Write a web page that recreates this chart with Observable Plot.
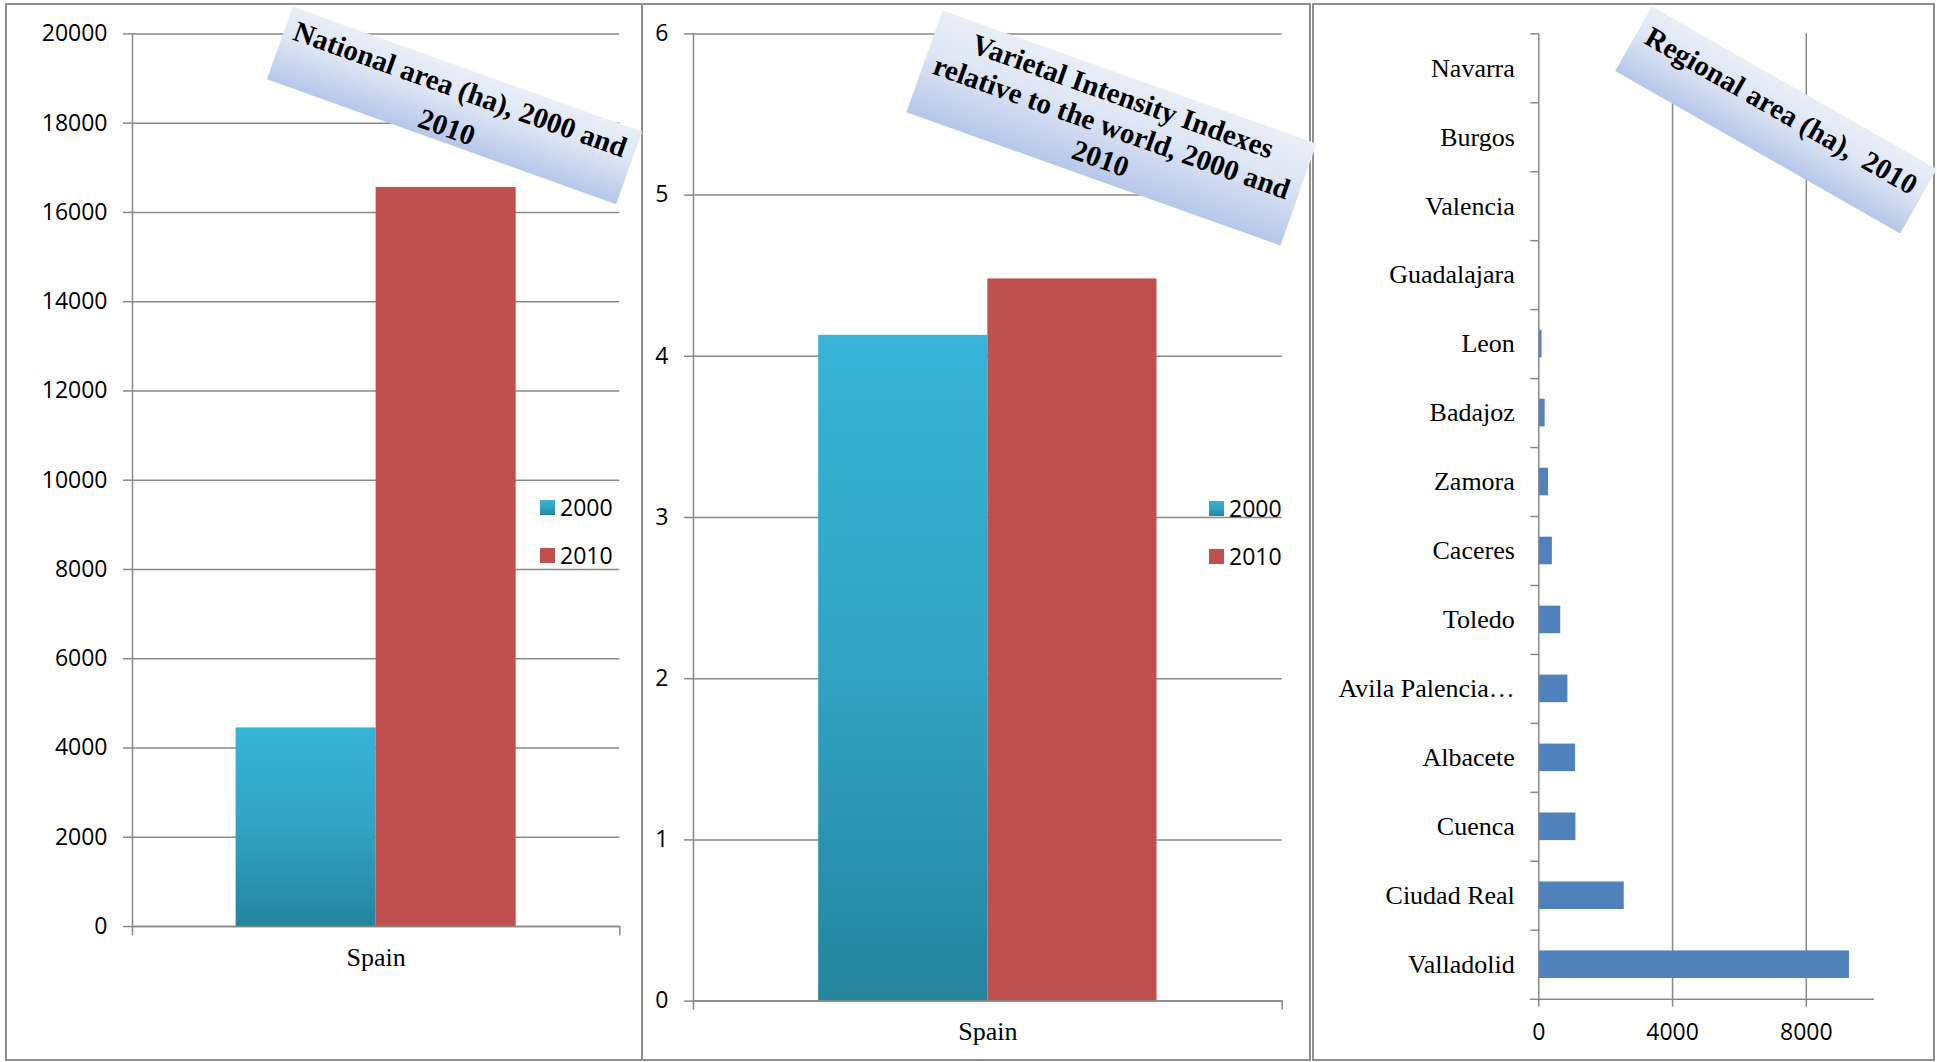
<!DOCTYPE html>
<html>
<head>
<meta charset="utf-8">
<script src="https://cdn.jsdelivr.net/npm/d3@7"></script>
<script src="https://cdn.jsdelivr.net/npm/@observablehq/plot@0.6"></script>
<style>
  html, body { margin: 0; padding: 0; background: #fff; }
  body { width: 1937px; height: 1062px; overflow: hidden; position: relative; font-family: 'Open Sans', sans-serif; }
  .panel { position: absolute; border: 2px solid #8f8f8f; box-sizing: border-box; }
  .chart { position: absolute; top: 0; }
  .title { position: absolute; box-sizing: border-box; background: linear-gradient(to bottom, #e9eef8 0%, #dfe6f5 40%, #b6c7ea 100%);
           font-family: 'Liberation Serif', 'Times New Roman', serif; font-weight: bold; font-size: 29px; line-height: 33px;
           text-align: center; white-space: pre; color: #000; transform-origin: 50% 50%; }
  .legend-item { position: absolute; display: flex; align-items: center; font-family: 'Open Sans', sans-serif; font-size: 23px; color: #000; transform: translateY(-50%); }
  .legend-item svg { margin-right: 5px; }
</style>
</head>
<body>
<svg width="0" height="0" style="position:absolute">
  <defs>
    <linearGradient id="grad2000" x1="0" y1="0" x2="0" y2="1">
      <stop offset="0" stop-color="#37b4d7"/>
      <stop offset="0.5" stop-color="#31a3c3"/>
      <stop offset="1" stop-color="#24859f"/>
    </linearGradient>
  </defs>
</svg>
<script>
// ---------- data ----------
const countries = ["Spain"];
const years = ["2000", "2010"];
const seriesColors = ["url(#grad2000)", "#c0504d"];
const nationalArea = [4450, 16560];
const varietalIndex = [4.13, 4.48];
const nationalTicks = [0, 2000, 4000, 6000, 8000, 10000, 12000, 14000, 16000, 18000, 20000];
const indexTicks = [0, 1, 2, 3, 4, 5, 6];
const regions = ["Navarra", "Burgos", "Valencia", "Guadalajara", "Leon", "Badajoz", "Zamora", "Caceres",
                 "Toledo", "Avila Palencia…", "Albacete", "Cuenca", "Ciudad Real", "Valladolid"];
const regionalArea = [0, 0, 0, 0, 95, 190, 290, 405, 655, 870, 1100, 1110, 2555, 9290];
const regionalTicks = [0, 4000, 8000];
const titles = [
  ["National area (ha), 2000 and", "2010"],
  ["Varietal Intensity Indexes", "relative to the world, 2000 and", "2010"],
  ["Regional area (ha),  2010"]
];

const GRID = "#898989";
const SERIF = "'Liberation Serif', 'Times New Roman', serif";
const H = 1062;
const body = document.body;
const plain = d => String(d);

function place(el, left) { el.classList.add("chart"); el.style.left = left + "px"; body.appendChild(el); }

function panelBox(l, t, r, b) {
  const d = document.createElement("div");
  d.className = "panel";
  Object.assign(d.style, {left: l + "px", top: t + "px", width: (r - l) + "px", height: (b - t) + "px"});
  body.appendChild(d);
}

function verticalPanel({values, ticks, yMax, width, mL, mR, mT, mB}) {
  const data = years.map((year, i) => ({country: countries[0], year, value: values[i]}));
  const frameH = H - mT - mB;
  const chart = Plot.plot({
    width, height: H, marginLeft: mL, marginRight: mR, marginTop: mT, marginBottom: mB,
    style: {fontFamily: "'Open Sans', sans-serif", fontSize: "23px", color: "#000", background: "transparent", overflow: "visible"},
    x: {type: "band", domain: years, paddingInner: 0, paddingOuter: 0.74, round: false, axis: null},
    y: {domain: [0, yMax], axis: null},
    color: {domain: years, range: seriesColors},
    marks: [
      Plot.gridY(ticks, {stroke: GRID, strokeOpacity: 1, strokeWidth: 1.5}),
      Plot.axisY(ticks, {tickSize: 9, tickPadding: 16, stroke: GRID, strokeWidth: 1.5, fontSize: 23, tickFormat: plain, label: null}),
      Plot.barY(data, {x: "year", y: "value", fill: "year"}),
      Plot.ruleY([0], {stroke: GRID, strokeWidth: 1.5}),
      Plot.frame({anchor: "left", stroke: GRID, strokeWidth: 1.5, insetBottom: -8}),
      Plot.frame({anchor: "right", stroke: GRID, strokeWidth: 1.5, insetTop: frameH, insetBottom: -8}),
      Plot.text(countries, {text: d => d, frameAnchor: "bottom", dy: 31, fontSize: 26, lineAnchor: "middle", fill: "#000"})
    ]
  });
  d3.select(chart).selectAll("text")
    .filter(function () { return countries.includes(this.textContent); })
    .style("font-family", SERIF).style("font-size", "26px");
  return chart;
}

function legend(x, ys) {
  years.forEach((year, i) => {
    const d = document.createElement("div");
    d.className = "legend-item";
    d.style.left = x + "px";
    d.style.top = ys[i] + "px";
    d.innerHTML = `<svg width="15" height="15"><rect width="15" height="15" fill="${seriesColors[i]}"/></svg><span>${year}</span>`;
    body.appendChild(d);
  });
}

function titleBox(lines, cx, cy, w, h, angle, padTop, lineHeight) {
  const d = document.createElement("div");
  d.className = "title";
  Object.assign(d.style, {left: (cx - w / 2) + "px", top: (cy - h / 2) + "px", width: w + "px", height: h + "px",
    transform: `rotate(${angle}deg)`, paddingTop: padTop + "px", lineHeight: lineHeight + "px"});
  d.textContent = lines.join("\n");
  body.appendChild(d);
}

// panel frames
panelBox(5, 3, 643, 1061);
panelBox(641, 3, 1311, 1061);
panelBox(1312, 3, 1935, 1061);

// ---------- panel 1 ----------
place(verticalPanel({values: nationalArea, ticks: nationalTicks, yMax: 20000, width: 643, mL: 132, mR: 23.7, mT: 33.4, mB: 136}), 0);
legend(540, [507, 555]);

// ---------- panel 2 ----------
place(verticalPanel({values: varietalIndex, ticks: indexTicks, yMax: 6, width: 667, mL: 50, mR: 28.3, mT: 33.4, mB: 61.4}), 643);
legend(1209, [508, 556]);

// ---------- panel 3 ----------
(function () {
  const mT = 33.3, mB = 63.3;
  const step = (H - mT - mB) / regions.length;
  const data = regions.map((region, i) => ({region, value: regionalArea[i]}));
  const chart = Plot.plot({
    width: 624, height: H, marginLeft: 225.3, marginRight: 64.3, marginTop: mT, marginBottom: mB,
    style: {fontFamily: "'Open Sans', sans-serif", fontSize: "23px", color: "#000", background: "transparent", overflow: "visible"},
    x: {domain: [0, 10000], axis: null},
    y: {type: "band", domain: regions, paddingInner: 0.6, paddingOuter: 0.3, round: false, axis: null},
    marks: [
      Plot.gridX(regionalTicks.filter(t => t > 0), {stroke: GRID, strokeOpacity: 1, strokeWidth: 1.5}),
      Plot.barX(data, {y: "region", x: "value", fill: "#4f81bd"}),
      Plot.ruleX([0], {stroke: GRID, strokeWidth: 1.5}),
      Plot.frame({anchor: "bottom", stroke: GRID, strokeWidth: 1.5, insetLeft: -8}),
      Plot.axisX(regionalTicks, {tickSize: 8, tickPadding: 16, stroke: GRID, strokeWidth: 1.5, fontSize: 23, tickFormat: plain, label: null}),
      Plot.axisY({tickSize: 0, tickPadding: 24, fontFamily: SERIF, fontSize: 26, label: null}),
      Plot.axisY({tickSize: 8, tickFormat: () => "", dy: -step / 2, stroke: GRID, strokeWidth: 1.5, label: null})
    ]
  });
  place(chart, 1313);
})();

// ---------- titles ----------
titleBox(titles[0], 454.5, 105.5, 371, 77, 19.7, 1, 40);
titleBox(titles[1], 1111, 128, 397, 108, 19.6, 4, 33);
titleBox(titles[2], 1775.6, 120.3, 328, 74, 29.7, 10, 33);
</script>
</body>
</html>
